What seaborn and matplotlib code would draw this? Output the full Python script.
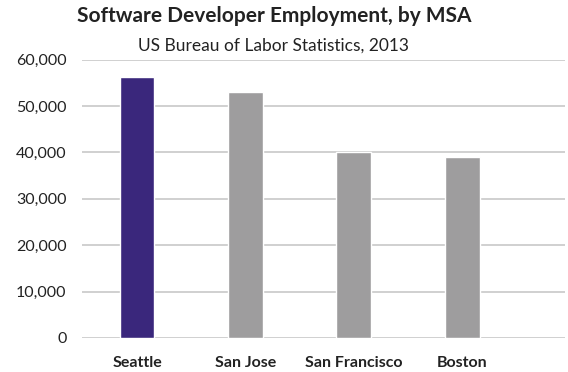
import matplotlib
matplotlib.use("Agg")
import matplotlib.pyplot as plt
import seaborn as sns
import pandas as pd
from matplotlib.ticker import FuncFormatter

cities = ["Seattle", "San Jose", "San Francisco", "Boston"]
employment = [56200, 53000, 40000, 39000]
colors = ["#3a277c", "#9e9d9e", "#9e9d9e", "#9e9d9e"]
yticks = [0, 10000, 20000, 30000, 40000, 50000, 60000]

df = pd.DataFrame({"city": cities, "employment": employment})

sns.set_theme(style="white")
plt.rcParams["font.family"] = ["Lato", "DejaVu Sans"]

fig = plt.figure(figsize=(5.68, 3.72), dpi=100)
ax = fig.add_axes([0.144, 0.0914, 0.851, 0.748])

sns.barplot(data=df, x="city", y="employment", hue="city", palette=colors,
            legend=False, width=0.32, ax=ax, saturation=1, zorder=3)

ax.set_ylim(0, 60000)
ax.set_xlim(-0.51, 3.95)
ax.set_yticks(yticks)
ax.yaxis.set_major_formatter(FuncFormatter(lambda v, p: f"{int(v):,}"))
ax.grid(axis="y", color="#c4c4c4", linewidth=1.1, zorder=0)
ax.set_axisbelow(True)
for s in ax.spines.values():
    s.set_visible(False)
ax.set_xlabel("")
ax.set_ylabel("")
ax.tick_params(axis="y", labelsize=11.5, labelcolor="#222222", length=0, pad=11)
ax.tick_params(axis="x", labelsize=11.5, labelcolor="#222222", length=0, pad=13)
for lab in ax.get_xticklabels():
    lab.set_fontweight("bold")

fig.text(0.482, 0.958, "Software Developer Employment, by MSA", ha="center", va="center",
         fontsize=15, fontweight="bold", color="#222222")
fig.text(0.482, 0.878, "US Bureau of Labor Statistics, 2013", ha="center", va="center",
         fontsize=12.5, color="#222222")

fig.savefig("out.png", dpi=100)
